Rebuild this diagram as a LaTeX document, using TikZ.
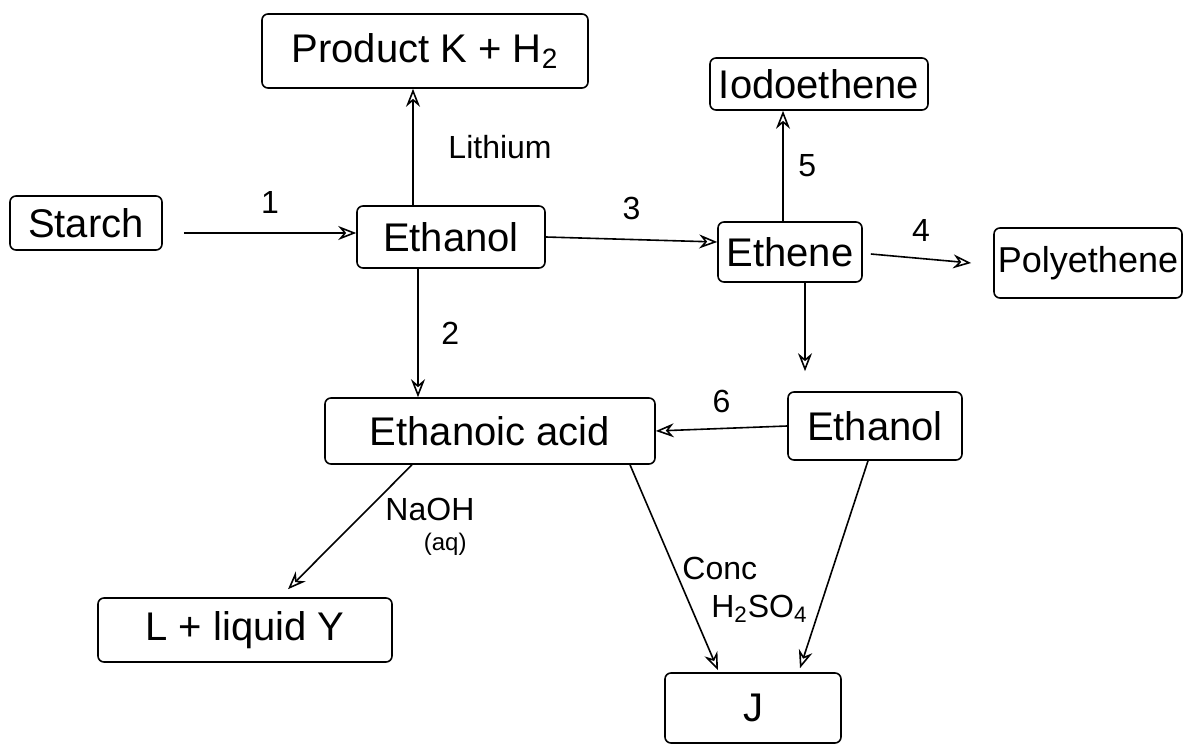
\documentclass[tikz,border=0pt]{standalone}
\usepackage{fontspec}
\setmainfont{Liberation Sans}
\usetikzlibrary{arrows.meta,positioning}

\begin{document}
\begin{tikzpicture}[x=0.5pt,y=-0.5pt,>={Stealth[length=9pt,width=7pt,open]},
  box/.style={draw,thick,rounded corners=3pt,inner sep=0pt,font=\fontsize{20}{24}\selectfont},
  flow/.style={->,thick},
  lbl/.style={font=\fontsize{16}{19}\selectfont}]
 \useasboundingbox (0,0) rectangle (1186,748);
 % substances (sizes in pt, half the picture's pixels)
 \node[box,minimum width=163pt,minimum height=37pt] (product) at (425,51) {Product K + H\textsubscript{2}};
 \node[box,minimum width=76pt,minimum height=27pt] (starch) at (86,223) {Starch};
 \node[box,minimum width=94pt,minimum height=31pt] (ethanolA) at (451,237) {Ethanol};
 \node[box,minimum width=109pt,minimum height=26pt] (iodo) at (819,84) {Iodoethene};
 \node[box,minimum width=72pt,minimum height=30pt] (ethene) at (790,252) {Ethene};
 \node[box,minimum width=94pt,minimum height=35pt,font=\fontsize{18}{22}\selectfont] (poly) at (1088,263) {Polyethene};
 \node[box,minimum width=165pt,minimum height=33pt] (acid) at (490,431) {Ethanoic acid};
 \node[box,minimum width=87pt,minimum height=34pt] (ethanolB) at (875,426) {Ethanol};
 \node[box,minimum width=147pt,minimum height=32pt] (salt) at (245,630) {L + liquid Y};
 \node[box,minimum width=88pt,minimum height=35pt] (ester) at (753,708) {J};
 % reactions
 \draw[flow] (starch.east)++(21,10) coordinate (s1) -- (ethanolA.west |- s1) node[lbl,midway,above=6pt] {1};
 \draw[flow] (ethanolA.north -| 413,0) -- (product.south -| 413,0) node[lbl,midway,right=14pt] {Lithium};
 \draw[flow] (ethanolA.south -| 418,0) -- (acid.north -| 418,0) node[lbl,midway,right=8pt] {2};
 \draw[flow] (ethanolA.east) -- (ethene.west |- 0,242) node[lbl,midway,above=6pt] {3};
 \draw[flow] (ethene.north -| 783,0) -- (iodo.south -| 783,0) node[lbl,midway,right=4pt] {5};
 \draw[flow] (ethene.east) ++(8,2) coordinate (e4) -- ([shift={(-22,0)}]poly.west) node[lbl,midway,above=5pt] {4};
 \draw[flow] (ethene.south -| 805,0) -- ([shift={(0,-20)}]ethanolB.north -| 805,0);
 \draw[flow] (ethanolB.west) -- (acid.east) node[lbl,midway,above=4pt] {6};
 \draw[flow] (acid.south -| 412,0) -- ([shift={(43,-8)}]salt.north) node[lbl,midway,right=14pt,align=left] {NaOH\\[-4pt]\hspace{1.2em}{\fontsize{12}{14}\selectfont(aq)}};
 \draw[flow] (acid.south -| 630,0) -- ([shift={(-35,-2)}]ester.north);
 \draw[flow] (ethanolB.south -| 868,0) -- ([shift={(47,-4)}]ester.north);
 \node[lbl,align=left] (cond) at (745,590) {Conc\\\hspace{0.9em}H\textsubscript{2}SO\textsubscript{4}};
\end{tikzpicture}
\end{document}
